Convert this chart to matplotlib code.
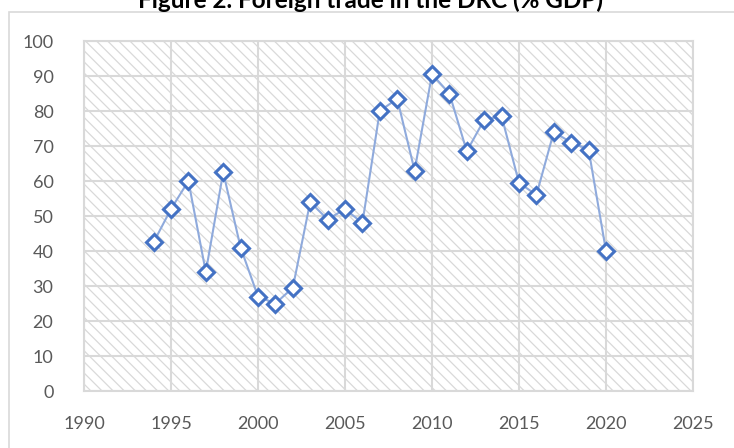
import matplotlib.pyplot as plt
from matplotlib.patches import Rectangle

plt.rcParams["font.family"] = ["Lato", "DejaVu Sans"]
plt.rcParams["hatch.color"] = "#d9d9d9"
plt.rcParams["hatch.linewidth"] = 0.9

years = [1994, 1995, 1996, 1997, 1998, 1999, 2000, 2001, 2002, 2003, 2004, 2005, 2006,
         2007, 2008, 2009, 2010, 2011, 2012, 2013, 2014, 2015, 2016, 2017, 2018, 2019, 2020]
trade = [42.5, 52, 60, 34, 62.5, 41, 27, 25, 29.5, 54, 49, 52, 48,
         80, 83.5, 63, 90.5, 85, 68.5, 77.5, 78.5, 59.5, 56, 74, 71, 69, 40]
x_ticks = [1990, 1995, 2000, 2005, 2010, 2015, 2020, 2025]
y_ticks = list(range(0, 101, 10))
title = "Figure 2. Foreign trade in the DRC (% GDP)"

grid_c = "#d9d9d9"
text_c = "#595959"

fig = plt.figure(figsize=(7.34, 4.48), dpi=100)
ax = fig.add_axes([84 / 734, 57 / 448, 609 / 734, 350 / 448])

# chart frame, running off the right and bottom edge
fig.patches.append(Rectangle((9 / 734, -0.1), 1.2, 1.1 - 12 / 448, transform=fig.transFigure,
                             fill=False, edgecolor=grid_c, linewidth=1.2))

ax.add_patch(Rectangle((0, 0), 1, 1, transform=ax.transAxes, facecolor="white",
                       hatch="\\\\\\", edgecolor=grid_c, linewidth=0, zorder=0))

ax.plot(years, trade, color="#8faadc", linewidth=1.5, zorder=3)
ax.plot(years, trade, linestyle="none", marker="D", markersize=8.5,
        markerfacecolor="white", markeredgecolor="#4472c4", markeredgewidth=2.2, zorder=4)

ax.set_xlim(1990, 2025)
ax.set_ylim(0, 100)
ax.set_xticks(x_ticks)
ax.set_yticks(y_ticks)
ax.grid(True, color=grid_c, linewidth=1.5, zorder=1)
ax.set_axisbelow(True)
for s in ax.spines.values():
    s.set_color(grid_c)
    s.set_linewidth(1.5)
ax.tick_params(length=0, labelsize=13, labelcolor=text_c)
ax.tick_params(axis="x", pad=18)
ax.tick_params(axis="y", pad=22)

fig.text(371 / 734, 1 - 8 / 448, title, ha="center", va="baseline",
         fontsize=17.5, fontweight="bold", color="black")

fig.savefig("out.png", dpi=100)
